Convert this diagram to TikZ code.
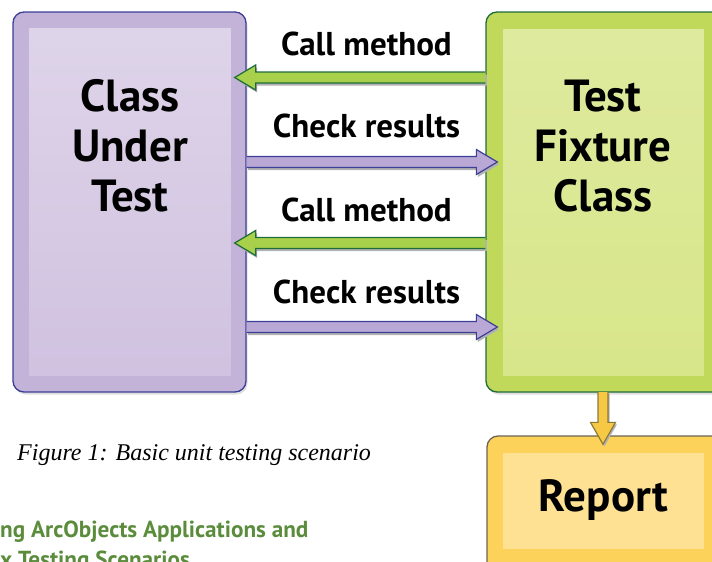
\documentclass[tikz,border=0pt]{standalone}
\usepackage{fontspec}
\setmainfont{Liberation Serif}
\newfontfamily\labelfont{PT Sans}
\usetikzlibrary{calc,shadows}

\definecolor{cutEdge}{HTML}{3B3F95}
\definecolor{cutOuter}{HTML}{C3B3D9}
\definecolor{cutInTop}{HTML}{DED4E9}
\definecolor{cutInBot}{HTML}{D0C2E0}
\definecolor{fixEdge}{HTML}{1E6B3C}
\definecolor{fixOuter}{HTML}{C0D95A}
\definecolor{fixInTop}{HTML}{DEEA9E}
\definecolor{fixInBot}{HTML}{D8E68A}
\definecolor{repEdge}{HTML}{6B6453}
\definecolor{repOuter}{HTML}{FDD25A}
\definecolor{repIn}{HTML}{FEE193}
\definecolor{callFill}{HTML}{A8D04A}
\definecolor{checkFill}{HTML}{B9A8D6}
\definecolor{repArrow}{HTML}{F7C844}
\definecolor{repArrowEdge}{HTML}{8A7A3A}
\definecolor{headGreen}{HTML}{5B8C3C}

% horizontal fat arrow: #1 tail, #2 tip, #3 style; head points left if #4=1, right if #4=-1
\newcommand\fatarrow[4]{%
  \fill[black!30,transform canvas={shift={(1.5pt,-2.5pt)}}]
    ($(#1)+(0,-5.5)$) -- ($(#2)+(#4*21,-5.5)$) -- ($(#2)+(#4*21,-12.5)$) -- (#2)
    -- ($(#2)+(#4*21,12.5)$) -- ($(#2)+(#4*21,5.5)$) -- ($(#1)+(0,5.5)$) -- cycle;
  \filldraw[#3]
    ($(#1)+(0,-5.5)$) -- ($(#2)+(#4*21,-5.5)$) -- ($(#2)+(#4*21,-12.5)$) -- (#2)
    -- ($(#2)+(#4*21,12.5)$) -- ($(#2)+(#4*21,5.5)$) -- ($(#1)+(0,5.5)$);
}

\begin{document}
\begin{tikzpicture}[x=1pt,y=-1pt,
  box/.style={rectangle,rounded corners=11pt,line width=1.3pt,inner sep=0pt,
    drop shadow={shadow xshift=1.5pt,shadow yshift=-2.5pt,opacity=0.25}},
  cutbox/.style={box,draw=cutEdge,fill=cutOuter,minimum width=233pt,minimum height=380pt},
  fixbox/.style={box,draw=fixEdge,fill=fixOuter,minimum width=240pt,minimum height=380pt},
  repbox/.style={box,draw=repEdge,fill=repOuter,minimum width=239pt,minimum height=140pt},
  boxtext/.style={align=center,inner sep=0pt,
    font=\labelfont\bfseries\fontsize{45}{50}\selectfont},
  armlabel/.style={inner sep=0pt,anchor=base,
    font=\labelfont\bfseries\fontsize{33}{38}\selectfont},
  callarrow/.style={fill=callFill,draw=fixEdge,line width=1.2pt,line join=miter},
  checkarrow/.style={fill=checkFill,draw=cutEdge,line width=1.2pt,line join=miter},
]
\useasboundingbox (0,0) rectangle (712,562);

% the three boxes
\node[cutbox] (cut) at (129.5,202) {};
\node[fixbox] (fix) at (606,202) {};
\node[repbox] (rep) at (606.5,506) {};

% lighter inner panels
\shade[top color=cutInTop,bottom color=cutInBot]
  ($(cut.north west)+(17,17)$) rectangle ($(cut.south east)+(-16,-17)$);
\shade[top color=fixInTop,bottom color=fixInBot]
  ($(fix.north west)+(18,18)$) rectangle ($(fix.south east)+(-23,-17)$);
\fill[repIn]
  ($(rep.north west)+(17,18)$) rectangle ($(rep.south east)+(-23,-28)$);

% box titles
\node[boxtext] (cuttext) at (130,146) {Class\\Under\\Test};
\node[boxtext] (fixtext) at (603,146) {Test\\Fixture\\Class};
\node[boxtext] (reptext) at (603.5,500) {Report};

% message rows
\coordinate (row1) at (0,77.5);
\coordinate (row2) at (0,162);
\coordinate (row3) at (0,243);
\coordinate (row4) at (0,327);

\coordinate (c1s) at (fix.west |- row1);
\coordinate (c1t) at ($(cut.east |- row1)+(-12,0)$);
\coordinate (k1s) at (cut.east |- row2);
\coordinate (k1t) at ($(fix.west |- row2)+(12,0)$);
\coordinate (c2s) at (fix.west |- row3);
\coordinate (c2t) at ($(cut.east |- row3)+(-12,0)$);
\coordinate (k2s) at (cut.east |- row4);
\coordinate (k2t) at ($(fix.west |- row4)+(12,0)$);

\fatarrow{c1s}{c1t}{callarrow}{1}
\fatarrow{k1s}{k1t}{checkarrow}{-1}
\fatarrow{c2s}{c2t}{callarrow}{1}
\fatarrow{k2s}{k2t}{checkarrow}{-1}

\node[armlabel] (l1) at (366.5,55) {Call method};
\node[armlabel] (l2) at (366.5,137) {Check results};
\node[armlabel] (l3) at (366.5,221) {Call method};
\node[armlabel] (l4) at (366.5,303) {Check results};

% fixture to report
\coordinate (dtail) at (603,392);
\coordinate (dtip) at ($(rep.north -| dtail)+(0,9)$);
\fill[black!30,transform canvas={shift={(1.5pt,-2pt)}}]
  ($(dtail)+(-5,0)$) -- ($(dtip)+(-5,-22)$) -- ($(dtip)+(-12.5,-22)$) -- (dtip)
  -- ($(dtip)+(12.5,-22)$) -- ($(dtip)+(5,-22)$) -- ($(dtail)+(5,0)$) -- cycle;
\filldraw[fill=repArrow,draw=repArrowEdge,line width=1.2pt,line join=miter]
  ($(dtail)+(-5,0)$) -- ($(dtip)+(-5,-22)$) -- ($(dtip)+(-12.5,-22)$) -- (dtip)
  -- ($(dtip)+(12.5,-22)$) -- ($(dtip)+(5,-22)$) -- ($(dtail)+(5,0)$);

% caption and following heading
\node[anchor=west,inner sep=0pt,font=\itshape\fontsize{24}{28}\selectfont]
  (caption) at (17,455) {Figure 1: Basic unit testing scenario};
\node[anchor=base west,inner sep=0pt,text=headGreen,
  font=\labelfont\bfseries\fontsize{23.2}{30}\selectfont]
  (head1) at (0,537) {ng ArcObjects Applications and};
\node[anchor=base west,inner sep=0pt,text=headGreen,
  font=\labelfont\bfseries\fontsize{23.2}{30}\selectfont]
  (head2) at (0,567) {x Testing Scenarios};
\end{tikzpicture}
\end{document}
